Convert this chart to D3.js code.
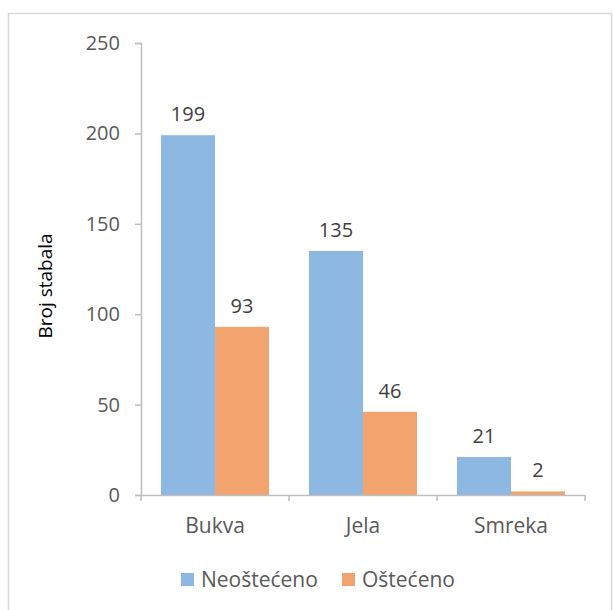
<!DOCTYPE html>
<html>
<head>
<meta charset="utf-8">
<script src="https://cdn.jsdelivr.net/npm/d3@7"></script>
<style>
  body { margin: 0; background: #fff; }
  text { font-family: "Open Sans", Lato, sans-serif; }
</style>
</head>
<body>
<svg id="chart" width="614" height="610"></svg>
<script>
// dati
const categories = ["Bukva", "Jela", "Smreka"];
const seriesNames = ["Neoštećeno", "Oštećeno"];
const neostecenoValues = [199, 135, 21];
const ostecenoValues = [93, 46, 2];
const yTicks = [0, 50, 100, 150, 200, 250];
const colors = ["#8DB8E2", "#F2A46F"];

const svg = d3.select("#chart");

// bordo esterno del riquadro
svg.append("rect")
  .attr("x", 8.5).attr("y", 13.5)
  .attr("width", 603).attr("height", 610)
  .attr("fill", "none")
  .attr("stroke", "#d9d9d9")
  .attr("stroke-width", 1.5);

const plotLeft = 141, plotRight = 585, plotTop = 43, plotBottom = 495;

const x = d3.scaleBand().domain(categories).range([plotLeft, plotRight]);
const xInner = d3.scaleBand().domain(seriesNames).range([20, x.bandwidth() - 20]);
const y = d3.scaleLinear().domain([0, 250]).range([plotBottom, plotTop]);

// asse y
const yAxis = svg.append("g")
  .attr("transform", `translate(${plotLeft},0)`)
  .call(d3.axisLeft(y).tickValues(yTicks).tickSize(6).tickPadding(15));
yAxis.select(".domain").attr("stroke", "#bfbfbf").attr("stroke-width", 1.5);
yAxis.selectAll(".tick line").attr("stroke", "#bfbfbf").attr("stroke-width", 1.5);
yAxis.selectAll(".tick text")
  .attr("fill", "#595959")
  .style("font-size", "20px");

// barre
const data = categories.map((c, i) => ({ cat: c, vals: [neostecenoValues[i], ostecenoValues[i]] }));
const groups = svg.selectAll("g.cat")
  .data(data)
  .enter()
  .append("g")
  .attr("class", "cat")
  .attr("transform", d => `translate(${x(d.cat)},0)`);

groups.selectAll("rect")
  .data(d => d.vals.map((v, j) => ({ name: seriesNames[j], v: v, j: j })))
  .enter()
  .append("rect")
  .attr("x", d => xInner(d.name))
  .attr("y", d => y(d.v))
  .attr("width", xInner.bandwidth())
  .attr("height", d => plotBottom - y(d.v))
  .attr("fill", d => colors[d.j]);

groups.selectAll("text.val")
  .data(d => d.vals.map((v, j) => ({ name: seriesNames[j], v: v })))
  .enter()
  .append("text")
  .attr("class", "val")
  .attr("x", d => xInner(d.name) + xInner.bandwidth() / 2)
  .attr("y", d => y(d.v) - 14)
  .attr("text-anchor", "middle")
  .attr("fill", "#404040")
  .style("font-size", "20px")
  .text(d => d.v);

// asse x
const xAxis = svg.append("g")
  .attr("transform", `translate(0,${plotBottom})`)
  .call(d3.axisBottom(x).tickSize(0).tickPadding(0));
xAxis.select(".domain").attr("stroke", "#bfbfbf").attr("stroke-width", 1.5);
xAxis.selectAll(".tick text")
  .attr("y", 38)
  .attr("dy", null)
  .attr("fill", "#595959")
  .style("font-size", "21px");
// tacche tra le categorie
xAxis.selectAll("line.sep")
  .data([plotLeft, ...categories.map(c => x(c) + x.bandwidth())])
  .enter()
  .append("line")
  .attr("class", "sep")
  .attr("x1", d => d).attr("x2", d => d)
  .attr("y1", 0).attr("y2", 6)
  .attr("stroke", "#bfbfbf")
  .attr("stroke-width", 1.5);

// titolo asse y
svg.append("text")
  .attr("transform", `translate(52,${(plotTop + plotBottom) / 2 + 17}) rotate(-90)`)
  .attr("text-anchor", "middle")
  .attr("fill", "#000")
  .style("font-size", "19px")
  .text("Broj stabala");

// legenda
const legendItems = [
  { name: seriesNames[0], color: colors[0], x: 181 },
  { name: seriesNames[1], color: colors[1], x: 342 }
];
const legend = svg.selectAll("g.legend")
  .data(legendItems)
  .enter()
  .append("g")
  .attr("class", "legend")
  .attr("transform", d => `translate(${d.x},573)`);
legend.append("rect")
  .attr("width", 13).attr("height", 13)
  .attr("fill", d => d.color);
legend.append("text")
  .attr("x", 20).attr("y", 14)
  .attr("fill", "#595959")
  .style("font-size", "21px")
  .text(d => d.name);
</script>
</body>
</html>
